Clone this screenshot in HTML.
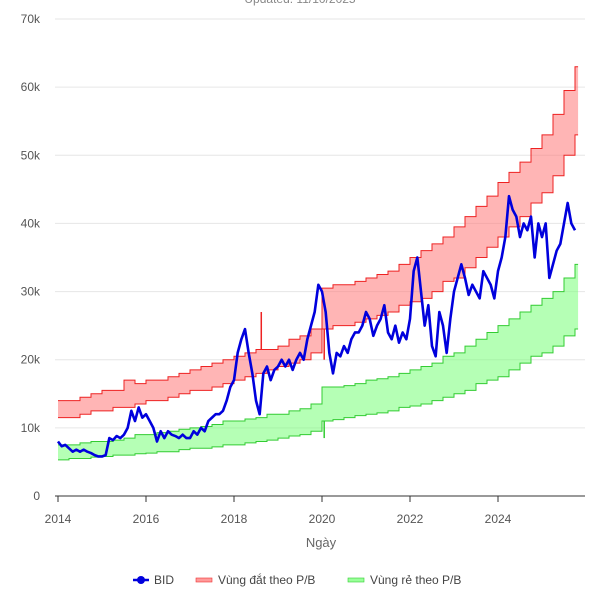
<!DOCTYPE html>
<html><head><meta charset="utf-8"><style>
body{margin:0;background:#fff;font-family:"Liberation Sans",sans-serif}
svg text{font-family:"Liberation Sans",sans-serif}
</style></head><body>
<svg id="c" width="600" height="600">
<text x="300" y="3" text-anchor="middle" font-size="12" fill="#888">Updated: 11/10/2025</text>
<g id="grid"></g>
<g id="bands"></g>
<g id="line"></g>
<g id="axes"></g>
<text x="321" y="547" text-anchor="middle" font-size="13" fill="#666">Ngày</text>
<g>
<g><line x1="133" y1="580" x2="149" y2="580" stroke="#0000dd" stroke-width="2.5"/><circle cx="141" cy="580" r="4" fill="#0000dd"/><text x="154" y="584" font-size="12" fill="#444">BID</text></g>
<g><rect x="196" y="578" width="16" height="4" fill="#ff9a9a" stroke="#e33" stroke-width="0.6"/><text x="218" y="584" font-size="12" fill="#444">Vùng đắt theo P/B</text></g>
<g><rect x="348" y="578" width="16" height="4" fill="#99ff99" stroke="#3c3" stroke-width="0.6"/><text x="370" y="584" font-size="12" fill="#444">Vùng rẻ theo P/B</text></g>
</g>
</svg>
<script>
const yTicks=[0,10000,20000,30000,40000,50000,60000,70000];
const yTickLabels=["0","10k","20k","30k","40k","50k","60k","70k"];
const xTicks=[2014,2016,2018,2020,2022,2024];
const bandStart=2014;
const redTop=[14,14,14.5,15,15.5,15.5,17,16.5,17,17,17.5,18,18.5,19,19.5,20,20.5,21,21.5,21.5,22,23,23.5,24.5,30.5,31,31,31.5,32,32.5,33,34,35,36,37,38,39.5,41,42.5,44,46,47.5,49,51,53,56,59.5,63];
const redBottom=[11.5,11.5,12,12.5,12.5,13,13,13.5,14,14,14.5,15,15.5,15.5,16,16.5,17,17.5,18,18.5,19,19.5,20,21,24.5,25,25,25.5,26,26.5,27,28,28.5,29,30,31.5,32,33.5,35,36.5,38,39.5,41,43,44.5,47,50,53];
const greenTop=[7.5,7.5,7.8,8,8,8.2,8.5,9,9,9.3,9.5,9.8,10,10.2,10.5,11,11,11.3,11.5,12,12,12.5,12.8,13.5,16,16,16.2,16.5,17,17.2,17.5,18,18.5,19,19.5,20.5,21,22,23,24,25,26,27,28,29,30,32,34];
const greenBottom=[5.3,5.5,5.5,5.7,5.8,6,6,6.2,6.3,6.5,6.5,6.8,7,7,7.2,7.5,7.5,7.8,8,8.2,8.5,8.8,9,9.5,11,11.2,11.5,11.8,12,12.2,12.5,13,13.2,13.5,14,14.5,15,15.5,16.5,17,17.5,18.5,19.5,20.5,21,22,23.5,24.5];
const priceStart=2014;
const price=[8,7.3,7.5,7,6.5,6.8,6.5,6.8,6.5,6.3,6,5.8,
5.8,6,8.5,8.2,8.8,8.5,9,10,12.5,11,13,11.5,
12,11,10,8,9.5,8.5,9.5,9,8.8,8.5,9,8.5,
8.5,9.5,9,10,9.5,11,11.5,12,12,12.5,14,16,
17,21,23,24.5,21,18,14,12,18,19,17,18.5,
19,20,19,20,18.5,20,21,20,23,25,27,31,
30,27,21,18,21,20.5,22,21,23,24,24,25,
27,26,23.5,25,26,28,24,23,25,22.5,24,23,
26,33,35,30,25,28,22,20.5,27,25,21,26,
30,32,34,32,29.5,31,30,29,33,32,31,29,
33,35,38,44,42,41,38,40,39,41,35,40,
38,40,32,34,36,37,40,43,40,39];
const redSpikeX=[2018.62,2020.05];const redSpikeTo=[27,20];
const greenSpikeX=[2020.05];const greenSpikeTo=[8.5];
const NS='http://www.w3.org/2000/svg';
const X=t=>58+(t-2014)*44, Y=v=>496-v/70000*477, Yk=v=>Y(v*1000);
function mk(tag,p,attrs){const e=document.createElementNS(NS,tag);for(const k in attrs)e.setAttribute(k,attrs[k]);document.getElementById(p).appendChild(e);return e;}
yTicks.forEach((v,i)=>{
 if(v>0){const l=mk('line','grid',{x1:55,x2:585,y1:Y(v),y2:Y(v),stroke:'#e6e6e6'});
 
 }
 const t=mk('text','axes',{x:40,y:Y(v)+4,'text-anchor':'end','font-size':12,fill:'#555'});t.textContent=yTickLabels[i];
 
 
});
mk('line','axes',{x1:55,x2:585,y1:496,y2:496,stroke:'#333','stroke-width':1});
xTicks.forEach(y=>{mk('line','axes',{x1:X(y),x2:X(y),y1:496,y2:502,stroke:'#333'});
 const t=mk('text','axes',{x:X(y),y:523,'text-anchor':'middle','font-size':12,fill:'#555'});t.textContent=y;
 
 });
function stepPts(arr){const p=[];arr.forEach((v,i)=>{const t0=bandStart+i*0.25,t1=Math.min(bandStart+(i+1)*0.25,2025.82);p.push([X(t0),Yk(v)],[X(t1),Yk(v)]);});return p;}
function band(top,bot,fill,stroke,name){
 const a=stepPts(top),b=stepPts(bot).reverse();
 const poly=mk('polygon','bands',{points:a.concat(b).map(p=>p.join(',')).join(' '),fill:fill,stroke:'none'});
 
 
 [a,b].forEach(s=>{mk('polyline','bands',{points:s.map(p=>p.join(',')).join(' '),fill:'none',stroke:stroke,'stroke-width':1});});
}
band(redTop,redBottom,'rgba(255,120,120,0.55)','#e22','red-zone-band');
band(greenTop,greenBottom,'rgba(120,255,120,0.55)','#3c3','green-zone-band');
redSpikeX.forEach((t,i)=>{const q=Math.floor((t-bandStart)/0.25);const base=redSpikeTo[i]>redTop[q]?redTop[q]:redBottom[q];
 mk('line','bands',{x1:X(t),x2:X(t),y1:Yk(base),y2:Yk(redSpikeTo[i]),stroke:'#e22','stroke-width':1.5});});
greenSpikeX.forEach((t,i)=>{const q=Math.floor((t-bandStart)/0.25);
 mk('line','bands',{x1:X(t),x2:X(t),y1:Yk(greenBottom[q]),y2:Yk(greenSpikeTo[i]),stroke:'#3c3','stroke-width':1.5});});
const pl=mk('polyline','line',{points:price.map((v,i)=>X(priceStart+i/12)+','+Yk(v)).join(' '),fill:'none',stroke:'#0000dd','stroke-width':2.6,'stroke-linejoin':'round'});


</script>
</body></html>
